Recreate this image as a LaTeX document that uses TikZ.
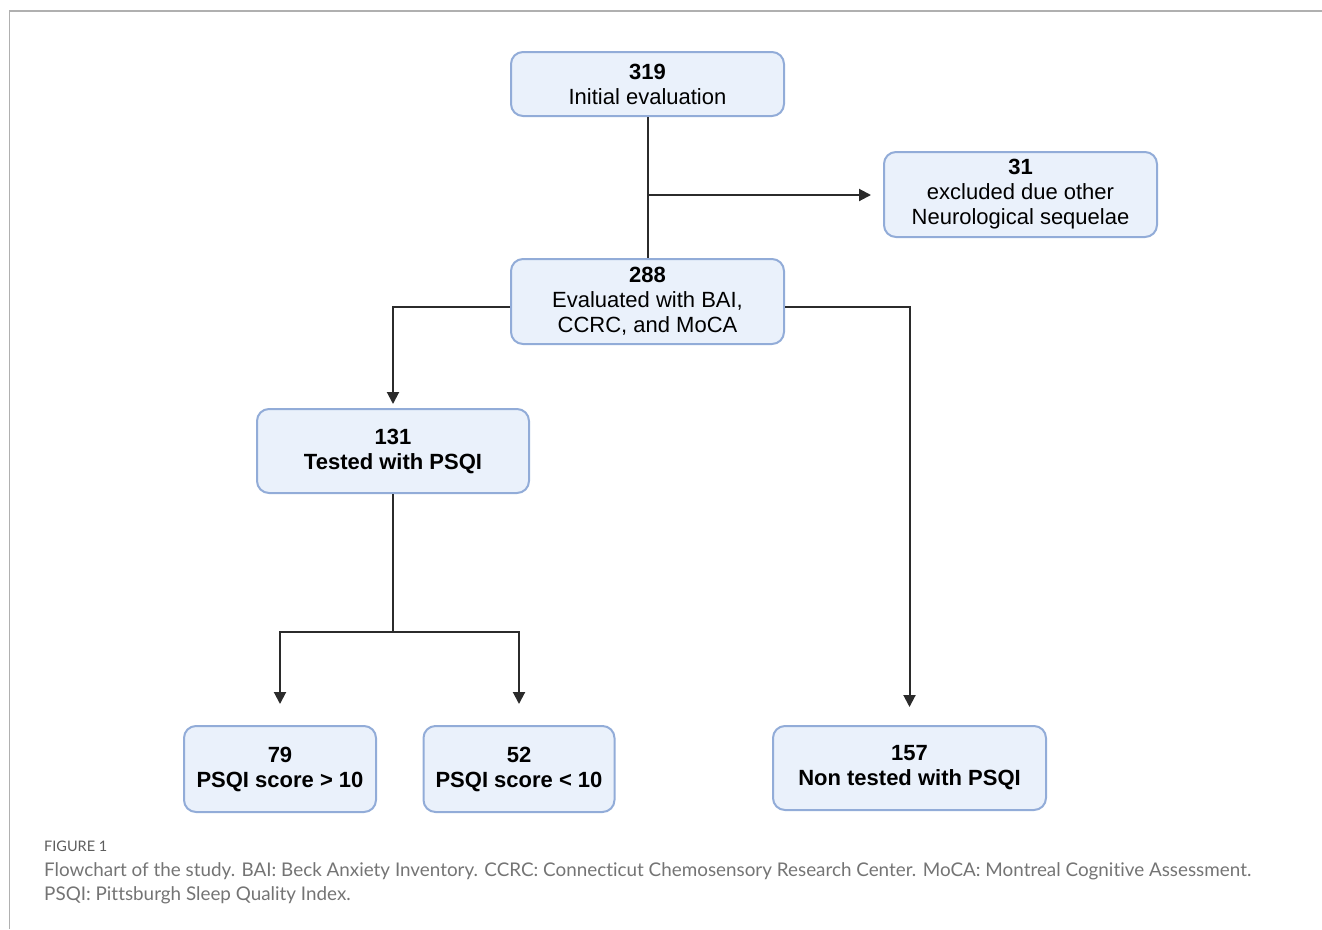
\documentclass[tikz,border=0pt]{standalone}
\usepackage{fontspec}
\setmainfont{Liberation Sans}
\newfontfamily\capfont{Lato}[Ligatures=NoCommon]
\usetikzlibrary{arrows.meta,calc}
\definecolor{boxfill}{HTML}{EAF1FB}
\definecolor{boxline}{HTML}{92ACD8}
\definecolor{conn}{HTML}{2B2B2B}
\definecolor{frame}{HTML}{B0B0B0}
\definecolor{capgray}{HTML}{747474}
\begin{document}
\begin{tikzpicture}[x=1pt,y=-1pt,
  box/.style={draw=boxline, fill=boxfill, line width=2pt, rounded corners=12pt,
    align=center, inner sep=0pt, font=\fontsize{22}{25}\selectfont},
  link/.style={draw=conn, line width=2pt},
  arr/.style={link, -{Triangle[length=12pt,width=12pt]}},
  captext/.style={anchor=base west, inner sep=0pt, text=capgray, font=\capfont\fontsize{18.85}{20}\selectfont}
]
\useasboundingbox (0,0) rectangle (1322,929);
\draw[frame, line width=1.5pt] (9.5,929) -- (9.5,11) -- (1322,11);

\node[box, minimum width=273, minimum height=64] (n319) at (647.5,84) {\textbf{319}\\Initial evaluation};
\node[box, minimum width=273, minimum height=85] (n31) at (1020.5,194.5) {\textbf{31}\\excluded due other\\Neurological sequelae};
\node[box, minimum width=273, minimum height=85] (n288) at (647.5,301.5) {\textbf{288}\\Evaluated with BAI,\\CCRC, and MoCA};
\node[box, minimum width=272, minimum height=84] (n131) at (393,451) {\textbf{131}\\\textbf{Tested with PSQI}};
\node[box, minimum width=192, minimum height=86] (n79) at (280,769) {\textbf{79}\\\textbf{PSQI score > 10}};
\node[box, minimum width=191, minimum height=86] (n52) at (519,769) {\textbf{52}\\\textbf{PSQI score < 10}};
\node[box, minimum width=273, minimum height=84] (n157) at (909.5,768) {\textbf{157}\\\textbf{Non tested with PSQI}};

\coordinate (j1) at (647.5,195);
\coordinate (j2) at (393,632);
\draw[link] (n319.south) -- (n288.north);
\draw[arr, shorten >=12pt] (j1) -- (n31.west |- j1);
\draw[arr, shorten >=4pt] ([yshift=-5.5pt]n288.west) -| (n131.north);
\draw[arr, shorten >=18pt] ([yshift=-5.5pt]n288.east) -| (n157.north);
\draw[link] (n131.south) -- (j2);
\draw[arr, shorten >=21pt] (j2) -| (n79.north);
\draw[arr, shorten >=21pt] (j2) -| (n52.north);

\node[anchor=base west, inner sep=0pt, text=capgray!80!black, font=\capfont\fontsize{14.5}{15}\selectfont] (fig) at (44,851) {FIGURE 1};
\node[captext] (c1) at (44,876) {Flowchart of the study. BAI: Beck Anxiety Inventory. CCRC: Connecticut Chemosensory Research Center. MoCA: Montreal Cognitive Assessment.};
\node[captext] (c2) at (44,900) {PSQI: Pittsburgh Sleep Quality Index.};
\end{tikzpicture}
\end{document}
